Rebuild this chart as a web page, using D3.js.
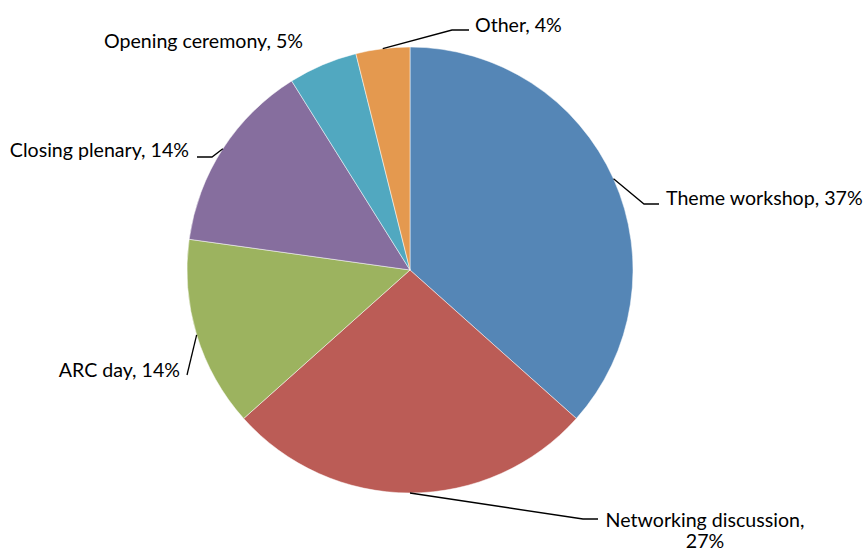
<!DOCTYPE html>
<html>
<head>
<meta charset="utf-8">
<script src="https://cdn.jsdelivr.net/npm/d3@7"></script>
<style>
  body { margin: 0; background: #fff; }
  text { font-family: Lato, "Open Sans", sans-serif; fill: #000; }
</style>
</head>
<body>
<div id="chart"></div>
<script>
// Data (percent shares, clockwise from 12 o'clock)
const categories = ['Theme workshop', 'Networking discussion', 'ARC day', 'Closing plenary', 'Opening ceremony', 'Other'];
const values = [36.6, 26.8, 13.8, 13.9, 5.0, 3.9];
const colors = ['#5586B6', '#BB5C56', '#9CB35F', '#866E9E', '#51A8C0', '#E4994F'];

const width = 863;
const height = 551;
const cx = 410, cy = 270, radius = 223;

// Label layout: text lines, anchor point, leader elbow/end (null = no leader)
const labelLayout = {
    'Theme workshop':        {lines: ['Theme workshop, 37%'], x: 666, y: 205, anchor: 'start', leader: [[644, 204], [659, 204]]},
    'Networking discussion': {lines: ['Networking discussion,', '27%'], x: 705, y: 527, anchor: 'middle', leader: [[583, 519], [598, 519]]},
    'ARC day':               {lines: ['ARC day, 14%'], x: 180, y: 377, anchor: 'end', leader: [[187, 375]]},
    'Closing plenary':       {lines: ['Closing plenary, 14%'], x: 189, y: 157, anchor: 'end', leader: [[212, 157], [197, 157]]},
    'Opening ceremony':      {lines: ['Opening ceremony, 5%'], x: 303, y: 48, anchor: 'end', leader: null},
    'Other':                 {lines: ['Other, 4%'], x: 475, y: 32, anchor: 'start', leader: [[452, 30], [469, 30]]}
};

const svg = d3.select('#chart')
    .append('svg')
    .attr('width', width)
    .attr('height', height);

const g = svg.append('g')
    .attr('transform', `translate(${cx},${cy})`);

const data = categories.map((c, i) => ({name: c, value: values[i], color: colors[i]}));

const pie = d3.pie()
    .sort(null)
    .value(d => d.value);

const arcs = pie(data);

const arc = d3.arc()
    .innerRadius(0)
    .outerRadius(radius);

// edge point at mid angle
const edgeArc = d3.arc()
    .innerRadius(radius)
    .outerRadius(radius);

g.selectAll('path.slice')
    .data(arcs)
    .enter()
    .append('path')
    .attr('class', 'slice')
    .attr('d', arc)
    .attr('fill', d => d.data.color)
    .attr('stroke', '#fff')
    .attr('stroke-width', 0.5);

// Leader lines
const line = d3.line();
arcs.forEach(d => {
    const lay = labelLayout[d.data.name];
    if (!lay.leader) return;
    const [ex, ey] = edgeArc.centroid(d);
    const pts = [[ex + cx, ey + cy]].concat(lay.leader);
    svg.append('path')
        .attr('d', line(pts))
        .attr('fill', 'none')
        .attr('stroke', '#000')
        .attr('stroke-width', 1.3);
});

// Labels
arcs.forEach(d => {
    const lay = labelLayout[d.data.name];
    const t = svg.append('text')
        .attr('x', lay.x)
        .attr('y', lay.y)
        .attr('text-anchor', lay.anchor)
        .style('font-size', '19.6px');
    lay.lines.forEach((s, i) => {
        t.append('tspan')
            .attr('x', lay.x)
            .attr('dy', i === 0 ? 0 : 21)
            .text(s);
    });
});
</script>
</body>
</html>
